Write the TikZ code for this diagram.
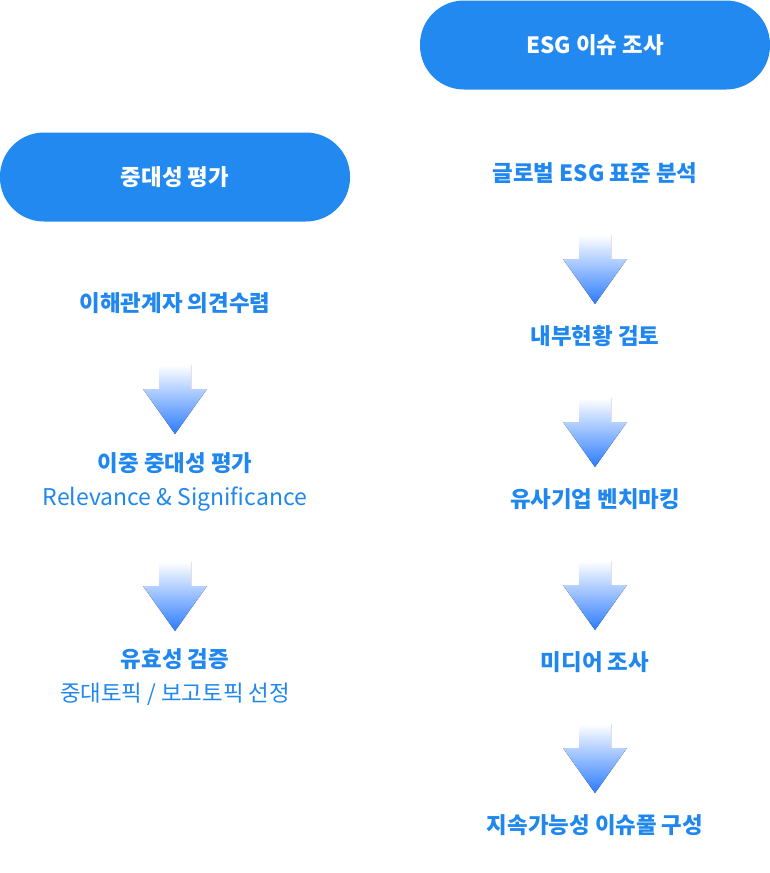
\documentclass[tikz,border=0pt]{standalone}
\usepackage{fontspec}
\setmainfont{Noto Sans CJK KR}
\usetikzlibrary{positioning}
\definecolor{pillblue}{HTML}{2189F0}
\definecolor{textblue}{HTML}{1F87EE}
\definecolor{arrowblue}{HTML}{2B7BFF}
\tikzstyle{pill} = [rectangle, rounded corners=44pt, minimum width=350pt, minimum height=89pt, fill=pillblue, text=white, font=\fontsize{22.4}{26}\selectfont\bfseries]
\tikzstyle{step_title} = [inner sep=0pt, text=textblue, font=\fontsize{22.4}{26}\selectfont\bfseries]
\tikzstyle{step_note} = [inner sep=0pt, text=textblue, font=\fontsize{22.4}{26}\selectfont]
\tikzset{flow_arrow/.pic={
    \fill [top color=white, bottom color=arrowblue] (-16,0) -- (16,0) -- (16,-24) -- (32,-24) -- (0,-69) -- (-32,-24) -- (-16,-24) -- cycle;
}}

\begin{document}
\begin{tikzpicture}[x=1pt, y=1pt, on grid]
    \useasboundingbox (0,0) rectangle (770,-873);

    % materiality column
    \node (materiality) [pill] at (175,-177) {중대성 평가};
    \node (stakeholder) [step_title, below=126pt of materiality] {이해관계자 의견수렴};
    \node (double) [step_title, below=160pt of stakeholder] {이중 중대성 평가};
    \node (double_note) [step_note, below=36pt of double, font=\fontsize{23}{26}\selectfont] {Relevance \& Significance};
    \node (validation) [step_title, below=160pt of double_note] {유효성 검증};
    \node (validation_note) [step_note, below=35pt of validation] {중대토픽 / 보고토픽 선정};

    \pic at ([yshift=-62pt]stakeholder.center) {flow_arrow};
    \pic at ([yshift=-63pt]double_note.center) {flow_arrow};

    % issue column
    \node (esg) [pill] at (595,-45) {ESG 이슈 조사};
    \node (standard) [step_title, below=128pt of esg] {글로벌 ESG 표준 분석};
    \node (internal) [step_title, below=163pt of standard] {내부현황 검토};
    \node (benchmark) [step_title, below=163pt of internal] {유사기업 벤치마킹};
    \node (media) [step_title, below=163pt of benchmark] {미디어 조사};
    \node (issue_pool) [step_title, below=163pt of media] {지속가능성 이슈풀 구성};

    \pic at ([yshift=-62pt]standard.center) {flow_arrow};
    \pic at ([yshift=-62pt]internal.center) {flow_arrow};
    \pic at ([yshift=-62pt]benchmark.center) {flow_arrow};
    \pic at ([yshift=-62pt]media.center) {flow_arrow};
\end{tikzpicture}
\end{document}
